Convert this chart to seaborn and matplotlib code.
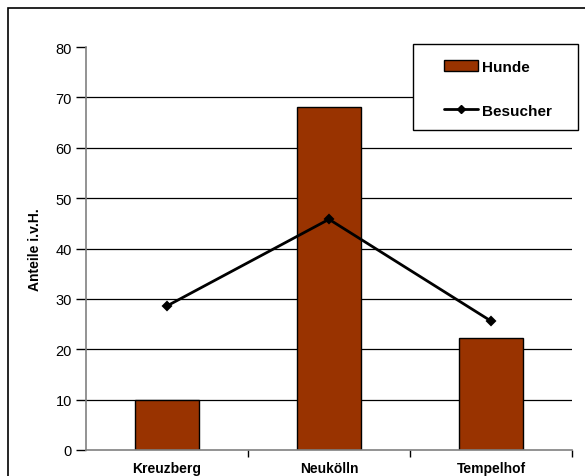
import matplotlib
matplotlib.use("Agg")
import matplotlib.pyplot as plt
import seaborn as sns
import pandas as pd
from matplotlib.patches import Patch, Rectangle
from matplotlib.lines import Line2D

# Stadtbezirke und Anteile (in v.H.)
bezirke = ["Kreuzberg", "Neukölln", "Tempelhof"]
hunde = [9.9, 68.0, 22.2]
besucher = [28.6, 45.8, 25.6]
y_ticks = [0, 10, 20, 30, 40, 50, 60, 70, 80]

df = pd.DataFrame({"Bezirk": bezirke, "Hunde": hunde, "Besucher": besucher})

sns.set_theme(style="white")
plt.rcParams["font.family"] = ["Liberation Sans", "DejaVu Sans"]
plt.rcParams["text.color"] = "black"
plt.rcParams["axes.labelcolor"] = "black"
plt.rcParams["xtick.color"] = "black"
plt.rcParams["ytick.color"] = "black"

W, H = 585, 477
fig = plt.figure(figsize=(W / 100, H / 100), dpi=100)
ax = fig.add_axes([86 / W, 1 - 451 / H, (572 - 86) / W, (451 - 48) / H])

# Gitterlinien
for v in y_ticks[1:-1]:
    ax.axhline(v, color="black", lw=0.9, zorder=0)

sns.barplot(data=df, x="Bezirk", y="Hunde", color="#993300", width=0.4,
            edgecolor="black", linewidth=1.0, saturation=1, ax=ax, zorder=2)
sns.pointplot(data=df, x="Bezirk", y="Besucher", color="black", marker="D",
              markersize=4.5, linewidth=2.0, ax=ax, zorder=3)

ax.set_ylim(0, 80)
ax.set_xlim(-0.5, 2.5)
ax.set_yticks(y_ticks)
ax.set_yticklabels([str(v) for v in y_ticks], fontsize=10.5)
ax.set_xticks([0, 1, 2])
ax.set_xticklabels(bezirke, fontsize=10, fontweight="bold")
ax.tick_params(axis="x", length=0, pad=8)
ax.tick_params(axis="y", length=7, width=1, color="black", direction="out", pad=3, left=True)
ax.set_xticks([0.5, 1.5, 2.5], minor=True)
ax.tick_params(axis="x", which="minor", length=5, width=1, color="black", direction="out", bottom=True)

ax.set_xlabel("")
ax.set_ylabel("Anteile i.v.H.", fontsize=10, fontweight="bold", labelpad=10)

for side in ["top", "right"]:
    ax.spines[side].set_visible(False)
ax.spines["left"].set_color("#808080")
ax.spines["bottom"].set_color("#808080")
ax.spines["left"].set_linewidth(1.2)
ax.spines["bottom"].set_linewidth(1.2)

# Legendenkasten
ax.add_patch(Rectangle((413 / W, 1 - 131 / H), (578 - 413) / W, (131 - 45) / H,
                       transform=fig.transFigure, facecolor="white",
                       edgecolor="black", linewidth=1.0, zorder=4, clip_on=False))

handles = [Patch(facecolor="#993300", edgecolor="black", linewidth=1.0),
           Line2D([0], [0], color="black", lw=2, marker="D", markersize=4.5)]
leg = ax.legend(handles, ["Hunde", "Besucher"], loc="upper left",
                bbox_to_anchor=(444 / W, 1 - 61 / H), bbox_transform=fig.transFigure,
                frameon=False, borderpad=0, labelspacing=1.95,
                handlelength=2.2, handleheight=0.7, handletextpad=0.3, borderaxespad=0,
                prop={"weight": "bold", "size": 11})
leg.set_zorder(5)

# Diagrammrahmen
fig.patches.append(Rectangle((8 / W, -0.05), 1.1, 1 - 9 / H + 0.05,
                             transform=fig.transFigure, fill=False,
                             edgecolor="black", linewidth=1.2))

fig.savefig("out.png", dpi=100)
